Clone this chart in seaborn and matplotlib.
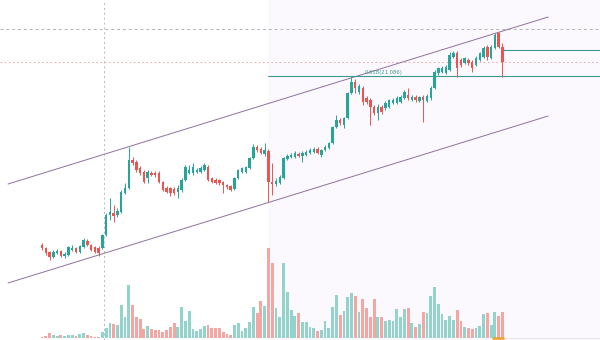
import numpy as np
import pandas as pd
import matplotlib
matplotlib.use("Agg")
import matplotlib.pyplot as plt
import seaborn as sns

# ---- data (price units, volume units) ----
open_ = [95, 92, 88, 83, 87, 89, 84, 85, 90, 92, 88, 93, 99, 95, 93, 92, 92, 105, 125, 127,
         125, 128, 147, 152, 180, 178, 172, 168, 162, 167, 167, 167, 158, 152, 152, 151, 148, 150, 160, 167,
         167, 168, 168, 170, 173, 162, 160, 160, 158, 155, 154, 151, 162, 168, 168, 172, 182, 193, 191, 186,
         189, 158, 156, 157, 162, 181, 183, 183, 186, 184, 185, 187, 188, 191, 185, 190, 192, 197, 213, 220,
         215, 222, 247, 258, 248, 252, 242, 240, 233, 227, 233, 232, 233, 237, 237, 238, 242, 245, 240, 243,
         239, 243, 239, 242, 252, 267, 268, 267, 270, 283, 287, 280, 277, 280, 278, 275, 280, 283, 293, 282,
         292, 307, 293]
close = [92, 87, 83, 88, 89, 84, 86, 93, 92.5, 88, 94, 100, 95, 90, 88, 87, 105, 125, 128, 124,
         129, 148, 152, 180, 177, 170, 167, 158, 168, 165, 165, 158, 150, 148, 147, 147, 152, 160, 173, 170,
         173, 170, 172, 175, 160, 158, 157, 157, 155, 153, 150, 162, 170, 172, 173, 182, 193, 190, 187, 190,
         158, 156, 159, 163, 182, 184, 185, 187, 184, 187, 188, 190, 191, 187, 190, 193, 197, 213, 220, 217,
         222, 247, 258, 252, 254, 238, 238, 233, 227, 233, 228, 237, 240, 240, 242, 243, 248, 242, 243, 240,
         243, 240, 244, 252, 268, 272, 272, 273, 285, 287, 272, 275, 282, 277, 272, 282, 287, 292, 283, 293,
         305, 293, 278]
high = [97, 93, 89, 90, 91, 90, 88, 94, 95, 93, 95, 102, 101, 96, 94, 94, 106, 127, 142, 135,
        132, 150, 157, 193, 183, 180, 174, 170, 170, 169, 169, 169, 159, 154, 153, 153, 155, 162, 175, 175,
        177, 172, 174, 177, 175, 163, 162, 161, 159, 156, 155, 163, 171, 173, 174, 183, 196, 195, 193, 197,
        191, 177, 162, 165, 183, 186, 187, 189, 188, 189, 190, 192, 193, 193, 191, 195, 198, 214, 225, 222,
        223, 248, 263, 261, 256, 254, 244, 242, 235, 236, 235, 239, 241, 242, 244, 245, 250, 252, 245, 245,
        244, 245, 246, 254, 270, 273, 274, 275, 288, 289, 289, 282, 283, 282, 280, 284, 288, 294, 295, 295,
        307, 308, 297]
low = [90, 85, 80, 82, 86, 83, 82, 84, 89, 87, 87, 92, 94, 89, 87, 84, 91, 104, 120, 118,
       123, 127, 146, 151, 175, 168, 165, 157, 157, 164, 163, 157, 149, 147, 144, 145, 142, 148, 159, 166,
       165, 167, 167, 169, 159, 157, 156, 155, 147, 151, 149, 150, 161, 167, 167, 171, 181, 188, 186, 184,
       138, 145, 154, 156, 161, 180, 182, 182, 183, 178, 184, 186, 187, 186, 183, 189, 191, 196, 212, 215,
       212, 221, 246, 247, 246, 235, 236, 215, 225, 220, 226, 230, 232, 236, 236, 237, 241, 240, 239, 238,
       238, 218, 238, 240, 251, 265, 267, 266, 269, 282, 263, 273, 276, 275, 268, 274, 279, 282, 280, 281,
       291, 292, 263]
volume = [1.5, 2.5, 5, 3, 2, 3, 2, 3, 3, 2, 4, 5, 3, 2, 1.5, 1, 6, 10, 15, 14,
          13.5, 33, 21, 53, 33, 21, 19, 9, 12, 9, 8, 8, 6, 8, 11, 15, 11, 31, 17, 27,
          9, 7, 9, 12, 13, 10, 10, 10, 6, 4, 3, 13, 15, 7, 10, 16, 31, 25, 37, 32,
          90, 75, 30, 21, 75, 46, 28, 22, 25, 16, 16, 11, 10, 7, 8, 17, 10, 31, 43, 23,
          27, 41, 45, 42, 26, 39, 30, 21, 39, 21, 21, 17, 18, 17, 29, 21, 29, 30, 15, 11,
          14, 26, 25, 42, 51, 34, 24, 18, 22, 18, 28, 17, 11, 10, 9, 10, 12, 24, 25, 13,
          26, 22, 26]

# drawn levels / trend channel (price units, bar index units)
channel_x = [-9.0, 134.1]
channel_upper = [156, 323]
channel_lower = [57, 224]
level_gray = 311
level_red = 278
level_fib = 264
level_fib_start = 59.9
level_top = 290
level_top_start = 122.15
marker_bar = 16.43
fib_label = "0.618(21.086)"

sns.set_theme(style="white")
plt.rcParams['font.family'] = ['DejaVu Sans']

n = len(open_)
idx = np.arange(n)
df = pd.DataFrame(dict(i=idx, o=open_, c=close, h=high, l=low, v=volume))
df['dir'] = np.where(df.c >= df.o, 'up', 'down')

UP, DOWN = '#26a69a', '#ef5350'
VUP, VDOWN = '#92d4cb', '#f5a6a3'
TEAL = '#3d9a90'
PURPLE = '#8f72a0'

fig = plt.figure(figsize=(6, 3.4), dpi=100)
ax = fig.add_axes([0, 0, 1, 1])
axv = ax.twinx()

xmin, xmax = -11.13, 147.85

# shaded area
ax.axvspan(level_fib_start, xmax + 5, color='#fbf9fd', zorder=0, lw=0)

# candles
cols = np.where(df.c >= df.o, UP, DOWN)
ax.vlines(df.i, df.l, df.h, colors=cols, linewidth=0.7, zorder=3)
body = np.maximum(np.abs(df.c - df.o), 0.8)
ax.bar(df.i, body, bottom=np.minimum(df.o, df.c), width=0.65, color=cols,
       linewidth=0, zorder=4)

# channel lines
ax.plot(channel_x, channel_upper, color=PURPLE, lw=0.7, zorder=2)
ax.plot(channel_x, channel_lower, color=PURPLE, lw=0.7, zorder=2)

# levels
ax.axhline(level_gray, color='#b3b3b3', ls=(0, (3, 3)), lw=0.7, zorder=1)
ax.axhline(level_red, color='#f29a9a', ls=(0, (2, 3)), lw=0.6, zorder=1)
ax.axvline(marker_bar, color='#b8b8b8', ls=(0, (2, 3)), lw=0.7, zorder=1)
ax.plot([level_fib_start, xmax + 5], [level_fib, level_fib], color=TEAL, lw=0.8, zorder=2)
ax.plot([level_top_start, xmax + 5], [level_top, level_top], color=TEAL, lw=0.8, zorder=2)
ax.text(85.6, level_fib + 1.0, fib_label, fontsize=3.8, color=TEAL, va='bottom', ha='left')

ax.set_xlim(xmin, xmax)
ax.set_ylim(0, 340)
ax.axis('off')

# volume
sns.barplot(data=df, x='i', y='v', hue='dir', palette={'up': VUP, 'down': VDOWN},
            native_scale=True, dodge=False, width=0.75, legend=False, errorbar=None,
            saturation=1, linewidth=0, ax=axv)
axv.plot([level_top_start, xmax + 5], [0, 0], color='#e2e2e2', lw=0.6)
axv.plot([119.3, 122.3], [0.3, 0.3], color='#f0a030', lw=1.8, solid_capstyle='butt')
axv.set_ylim(-2, 338)
axv.set_xlim(xmin, xmax)
axv.axis('off')

fig.savefig('out.png', dpi=100)
